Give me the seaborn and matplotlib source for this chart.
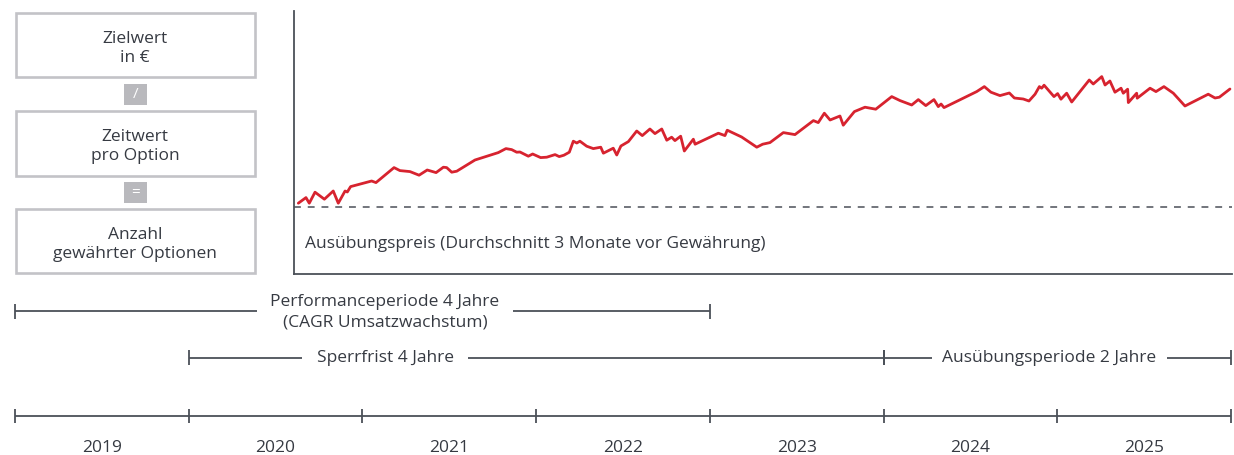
import numpy as np
import pandas as pd
import matplotlib
matplotlib.use("Agg")
import matplotlib.pyplot as plt
from matplotlib.patches import Rectangle
import seaborn as sns

# Kursverlauf (Index, Ausübungspreis = 100), x in Jahren
kurs_jahr = [2020.631, 2020.675, 2020.694, 2020.727, 2020.781, 2020.832, 2020.861, 2020.900,
             2020.913, 2020.932, 2021.053, 2021.078, 2021.182, 2021.216, 2021.274, 2021.326,
             2021.373, 2021.424, 2021.466, 2021.485, 2021.514, 2021.543, 2021.648, 2021.782,
             2021.826, 2021.859, 2021.888, 2021.907, 2021.955, 2021.980, 2022.026, 2022.061,
             2022.109, 2022.133, 2022.160, 2022.191, 2022.214, 2022.234, 2022.252, 2022.291,
             2022.329, 2022.372, 2022.387, 2022.444, 2022.464, 2022.488, 2022.531, 2022.579,
             2022.611, 2022.655, 2022.684, 2022.723, 2022.752, 2022.780, 2022.799, 2022.832,
             2022.853, 2022.905, 2022.915, 2023.049, 2023.087, 2023.100, 2023.183, 2023.270,
             2023.304, 2023.346, 2023.423, 2023.490, 2023.596, 2023.624, 2023.659, 2023.692,
             2023.749, 2023.768, 2023.832, 2023.893, 2023.955, 2024.047, 2024.095, 2024.162,
             2024.200, 2024.243, 2024.290, 2024.315, 2024.331, 2024.348, 2024.536, 2024.580,
             2024.618, 2024.670, 2024.724, 2024.753, 2024.804, 2024.837, 2024.872, 2024.897,
             2024.910, 2024.924, 2024.981, 2025.002, 2025.021, 2025.054, 2025.083, 2025.184,
             2025.207, 2025.256, 2025.275, 2025.303, 2025.332, 2025.367, 2025.380, 2025.405,
             2025.409, 2025.457, 2025.460, 2025.534, 2025.568, 2025.614, 2025.668, 2025.735,
             2025.869, 2025.908, 2025.933, 2025.994]
kurs_wert = [101.9, 104.7, 101.9, 107.4, 103.9, 108.0, 101.9, 108.0,
             107.5, 110.2, 113.0, 112.2, 119.7, 118.2, 117.7, 115.9,
             118.5, 117.2, 119.9, 119.7, 117.4, 117.9, 123.5, 127.2,
             129.2, 128.7, 127.4, 127.5, 125.4, 126.5, 124.7, 124.9,
             126.2, 125.2, 125.9, 127.4, 132.9, 132.0, 132.9, 130.4,
             129.2, 129.9, 126.9, 129.4, 126.0, 130.5, 132.7, 138.0,
             135.7, 139.0, 136.7, 139.0, 133.4, 134.9, 133.2, 135.4,
             128.0, 133.9, 131.4, 136.9, 135.7, 138.4, 135.0, 129.9,
             131.4, 132.2, 137.2, 136.2, 143.2, 142.2, 146.9, 143.5,
             145.5, 140.9, 147.7, 149.9, 148.9, 155.2, 153.2, 151.0,
             153.7, 150.7, 153.7, 150.2, 151.5, 149.7, 157.7, 160.2,
             157.4, 155.7, 157.0, 154.5, 154.0, 153.0, 156.4, 160.2,
             159.4, 160.9, 155.2, 156.7, 153.9, 156.9, 152.5, 163.5,
             161.5, 165.2, 161.0, 163.0, 157.4, 159.4, 156.9, 158.9,
             152.2, 156.9, 154.4, 159.4, 157.7, 160.2, 156.9, 150.5,
             156.4, 154.5, 154.9, 159.0]
ausuebungspreis = 100.0

jahre = [2019, 2020, 2021, 2022, 2023, 2024, 2025]

# Perioden: Text, Start, Ende, Textmitte
perioden_text = ["Performanceperiode 4 Jahre\n(CAGR Umsatzwachstum)",
                 "Sperrfrist 4 Jahre",
                 "Ausübungsperiode 2 Jahre"]
perioden_start = [2019.0, 2020.0, 2024.0]
perioden_ende = [2023.0, 2024.0, 2026.0]
perioden_mitte = [2021.13, 2021.13, 2024.955]

boxen_text = ["Zielwert\nin €", "Zeitwert\npro Option", "Anzahl\ngewährter Optionen"]
operatoren = ["/", "="]

TXT = "#363a42"
LIN = "#4b5058"
ROT = "#d7232f"
GRAU = "#c3c3c7"

sns.set_style("white")
plt.rcParams["font.family"] = ["Open Sans", "DejaVu Sans"]
plt.rcParams["font.size"] = 12.5

W, H = 1234, 455
fig = plt.figure(figsize=(W / 100, H / 100), dpi=100)

# Hilfsachse in Pixeln für die Boxen links
px = fig.add_axes([0, 0, 1, 1])
px.set_xlim(0, W)
px.set_ylim(H, 0)
px.axis("off")

box_y = [(13, 77), (110.5, 175.5), (209, 273)]
for (y0, y1), t in zip(box_y, boxen_text):
    px.add_patch(Rectangle((15.5, y0), 239.5, y1 - y0, fill=False, ec=GRAU, lw=1.9))
    px.text(135, (y0 + y1) / 2 + 3.5, t, ha="center", va="center", color=TXT, linespacing=1.3)

op_y = [(83.5, 105), (181.5, 203)]
for (y0, y1), t in zip(op_y, operatoren):
    px.add_patch(Rectangle((124, y0), 23, y1 - y0, fc="#b9b9bd", ec="none"))
    px.text(135.5, (y0 + y1) / 2, t, ha="center", va="center", color="white", fontsize=11)

px.text(305, 244, "Ausübungspreis (Durchschnitt 3 Monate vor Gewährung)",
        ha="left", va="center", color=TXT)

# Zeitachse: x in Jahren, y in Pixeln
x0 = 2019 - 15 / 173.714
x1 = 2019 + (W - 15) / 173.714
tl = fig.add_axes([0, 0, 1, 1])
tl.set_xlim(x0, x1)
tl.set_ylim(H, 0)
tl.axis("off")
tl.patch.set_alpha(0)

grenzen = jahre + [jahre[-1] + 1]
tl.hlines(415.5, grenzen[0], grenzen[-1], color=LIN, lw=1.3)
tl.vlines(grenzen, 408.5, 423, color=LIN, lw=1.3)
for j in jahre:
    tl.text(j + 0.5, 448, str(j), ha="center", va="center", color=TXT)

perioden_y = [311, 357.5, 357.5]
pads = [9.5, 10.5, 7.5]
for t, s, e, m, y, p in zip(perioden_text, perioden_start, perioden_ende,
                            perioden_mitte, perioden_y, pads):
    tl.hlines(y, s, e, color=LIN, lw=1.3, zorder=1)
    tl.vlines([s, e], y - 7.5, y + 7.5, color=LIN, lw=1.3, zorder=1)
    tl.text(m, y + 1, t, ha="center", va="center", color=TXT, linespacing=1.35, zorder=3,
            bbox=dict(fc="white", ec="none", pad=p))

# Kurschart
cx0, cx1, cy0, cy1 = 294, 1231.7, 11, 274
ax = fig.add_axes([cx0 / W, (H - cy1) / H, (cx1 - cx0) / W, (cy1 - cy0) / H])
ax.patch.set_alpha(0)
df = pd.DataFrame({"jahr": kurs_jahr, "wert": kurs_wert})
sns.lineplot(data=df, x="jahr", y="wert", ax=ax, color=ROT, lw=2.0, estimator=None, sort=False)
ax.axhline(ausuebungspreis, color=LIN, lw=1.1, ls=(0, (4.5, 4.5)))
ax.set_xlim(x0 + cx0 / 173.714, x0 + cx1 / 173.714)
ax.set_ylim(100 + (207 - cy1) * 0.5, 100 + (207 - cy0) * 0.5)
ax.set_xlabel("")
ax.set_ylabel("")
ax.set_xticks([])
ax.set_yticks([])
for s in ["top", "right"]:
    ax.spines[s].set_visible(False)
for s in ["left", "bottom"]:
    ax.spines[s].set_color(LIN)
    ax.spines[s].set_linewidth(1.3)

fig.savefig("out.png", dpi=100)
